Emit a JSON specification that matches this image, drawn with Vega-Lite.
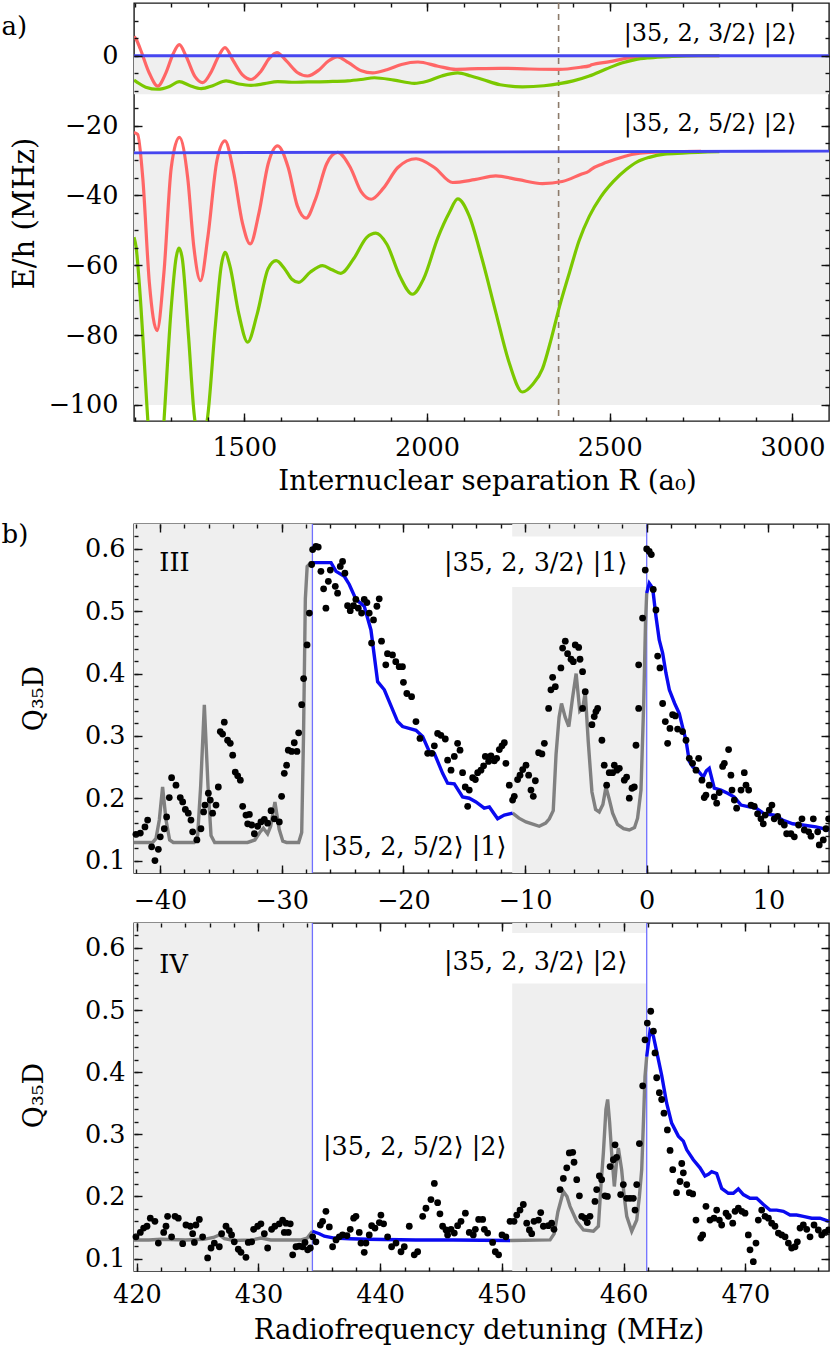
{
"$schema": "https://vega.github.io/schema/vega-lite/v6.json",
"padding": {"left": 0, "top": 1, "right": 0, "bottom": 0},
"spacing": 0,
"config": {
  "view": {"stroke": "#1a1a1a", "strokeWidth": 1.4},
  "font": "DejaVu Serif",
  "axis": {"domain": false, "grid": false, "ticks": true, "labelFont": "DejaVu Serif", "titleFont": "DejaVu Serif", "labelColor": "#000", "titleColor": "#000", "tickColor": "#111111", "tickOpacity": 1, "tickWidth": 1.4, "titleFontWeight": "normal", "labelFlush": false, "labelOverlap": false, "labelFontSize": 25.5}
},
"datasets": {
  "a_rect": [{"x":1198,"x2":3100,"y":-11,"y2":0},{"x":1198,"x2":3100,"y":-100,"y2":-27.4}],
  "a_rule": [{"x":2360}],
  "a_blue": [{"R":1198,"E":0,"s":"b1"},{"R":3100,"E":0,"s":"b1"},{"R":1198,"E":-27.8,"s":"b2"},{"R":3100,"E":-27.3,"s":"b2"}],
  "a_text": [{"x":2538,"y":6.1,"t":"|35, 2, 3/2⟩ |2⟩"},{"x":2538,"y":-19.6,"t":"|35, 2, 5/2⟩ |2⟩"}],
  "a_curves": [
{"R":1198,"E":5.5,"s":"r1"},{"R":1204,"E":4.7,"s":"r1"},{"R":1215,"E":2,"s":"r1"},{"R":1240,"E":-5,"s":"r1"},{"R":1263,"E":-8.7,"s":"r1"},{"R":1285,"E":-5,"s":"r1"},{"R":1305,"E":0.5,"s":"r1"},{"R":1322,"E":3.2,"s":"r1"},{"R":1340,"E":0,"s":"r1"},{"R":1365,"E":-6,"s":"r1"},{"R":1386,"E":-7.7,"s":"r1"},{"R":1410,"E":-4.5,"s":"r1"},{"R":1430,"E":0,"s":"r1"},{"R":1447,"E":2.3,"s":"r1"},{"R":1470,"E":-1.5,"s":"r1"},{"R":1495,"E":-5.5,"s":"r1"},{"R":1518,"E":-6.8,"s":"r1"},{"R":1545,"E":-4.5,"s":"r1"},{"R":1568,"E":-0.8,"s":"r1"},{"R":1589,"E":0.9,"s":"r1"},{"R":1615,"E":-1.5,"s":"r1"},{"R":1645,"E":-4.8,"s":"r1"},{"R":1673,"E":-5.8,"s":"r1"},{"R":1705,"E":-4,"s":"r1"},{"R":1730,"E":-1.5,"s":"r1"},{"R":1755,"E":-0.3,"s":"r1"},{"R":1785,"E":-2,"s":"r1"},{"R":1820,"E":-4.3,"s":"r1"},{"R":1851,"E":-4.9,"s":"r1"},{"R":1890,"E":-4,"s":"r1"},{"R":1930,"E":-2.5,"s":"r1"},{"R":1975,"E":-1.8,"s":"r1"},{"R":2030,"E":-3,"s":"r1"},{"R":2079,"E":-3.9,"s":"r1"},{"R":2140,"E":-3.7,"s":"r1"},{"R":2197,"E":-3.6,"s":"r1"},{"R":2280,"E":-3.8,"s":"r1"},{"R":2362,"E":-3.9,"s":"r1"},{"R":2420,"E":-3.3,"s":"r1"},{"R":2444,"E":-2.9,"s":"r1"},{"R":2450,"E":-2.6,"s":"r1"},{"R":2500,"E":-1.7,"s":"r1"},{"R":2553,"E":-0.6,"s":"r1"},{"R":2620,"E":-0.15,"s":"r1"},{"R":2700,"E":0,"s":"r1"},{"R":2800,"E":0,"s":"r1"},
{"R":1198,"E":-22,"s":"r2"},{"R":1208,"E":-22.5,"s":"r2"},{"R":1222,"E":-35,"s":"r2"},{"R":1240,"E":-65,"s":"r2"},{"R":1261,"E":-78.7,"s":"r2"},{"R":1280,"E":-62,"s":"r2"},{"R":1300,"E":-32,"s":"r2"},{"R":1322,"E":-23.4,"s":"r2"},{"R":1345,"E":-35,"s":"r2"},{"R":1362,"E":-55,"s":"r2"},{"R":1380,"E":-64.4,"s":"r2"},{"R":1400,"E":-52,"s":"r2"},{"R":1425,"E":-30,"s":"r2"},{"R":1447,"E":-24.4,"s":"r2"},{"R":1470,"E":-33,"s":"r2"},{"R":1495,"E":-48,"s":"r2"},{"R":1516,"E":-53.9,"s":"r2"},{"R":1540,"E":-45,"s":"r2"},{"R":1565,"E":-31,"s":"r2"},{"R":1591,"E":-25.8,"s":"r2"},{"R":1620,"E":-32,"s":"r2"},{"R":1645,"E":-43,"s":"r2"},{"R":1669,"E":-46.5,"s":"r2"},{"R":1695,"E":-41,"s":"r2"},{"R":1725,"E":-31,"s":"r2"},{"R":1755,"E":-27.7,"s":"r2"},{"R":1790,"E":-32,"s":"r2"},{"R":1820,"E":-39,"s":"r2"},{"R":1847,"E":-41.1,"s":"r2"},{"R":1880,"E":-38,"s":"r2"},{"R":1920,"E":-32,"s":"r2"},{"R":1970,"E":-29.5,"s":"r2"},{"R":2020,"E":-32,"s":"r2"},{"R":2070,"E":-36.3,"s":"r2"},{"R":2130,"E":-35.5,"s":"r2"},{"R":2188,"E":-34.4,"s":"r2"},{"R":2250,"E":-35.5,"s":"r2"},{"R":2316,"E":-36.6,"s":"r2"},{"R":2370,"E":-36,"s":"r2"},{"R":2420,"E":-34,"s":"r2"},{"R":2444,"E":-33,"s":"r2"},{"R":2450,"E":-32.5,"s":"r2"},{"R":2480,"E":-31,"s":"r2"},{"R":2517,"E":-29.6,"s":"r2"},{"R":2560,"E":-28.3,"s":"r2"},{"R":2608,"E":-27.7,"s":"r2"},{"R":2700,"E":-27.45,"s":"r2"},{"R":2750,"E":-27.4,"s":"r2"},
{"R":1198,"E":-7,"s":"g1"},{"R":1204,"E":-7.4,"s":"g1"},{"R":1230,"E":-9,"s":"g1"},{"R":1263,"E":-9.6,"s":"g1"},{"R":1295,"E":-8.8,"s":"g1"},{"R":1322,"E":-7.4,"s":"g1"},{"R":1350,"E":-8.5,"s":"g1"},{"R":1382,"E":-9.4,"s":"g1"},{"R":1415,"E":-8.5,"s":"g1"},{"R":1450,"E":-7.2,"s":"g1"},{"R":1485,"E":-8.1,"s":"g1"},{"R":1518,"E":-8.5,"s":"g1"},{"R":1555,"E":-8,"s":"g1"},{"R":1591,"E":-7.4,"s":"g1"},{"R":1630,"E":-7.6,"s":"g1"},{"R":1673,"E":-7.5,"s":"g1"},{"R":1730,"E":-7.4,"s":"g1"},{"R":1783,"E":-7.2,"s":"g1"},{"R":1820,"E":-6.8,"s":"g1"},{"R":1856,"E":-6.3,"s":"g1"},{"R":1910,"E":-7,"s":"g1"},{"R":1965,"E":-7.9,"s":"g1"},{"R":2000,"E":-7.3,"s":"g1"},{"R":2040,"E":-5.8,"s":"g1"},{"R":2084,"E":-4.9,"s":"g1"},{"R":2120,"E":-5.8,"s":"g1"},{"R":2152,"E":-6.8,"s":"g1"},{"R":2200,"E":-8.3,"s":"g1"},{"R":2261,"E":-8.9,"s":"g1"},{"R":2320,"E":-8.6,"s":"g1"},{"R":2362,"E":-8,"s":"g1"},{"R":2400,"E":-7.2,"s":"g1"},{"R":2444,"E":-5.8,"s":"g1"},{"R":2490,"E":-3.8,"s":"g1"},{"R":2535,"E":-2,"s":"g1"},{"R":2570,"E":-1.1,"s":"g1"},{"R":2608,"E":-0.6,"s":"g1"},{"R":2670,"E":-0.2,"s":"g1"},{"R":2744,"E":0,"s":"g1"},{"R":2800,"E":0,"s":"g1"},
{"R":1198,"E":-52,"s":"g2"},{"R":1204,"E":-55,"s":"g2"},{"R":1213,"E":-66,"s":"g2"},{"R":1235,"E":-103,"s":"g2"},{"R":1258,"E":-140,"s":"g2"},{"R":1281,"E":-103,"s":"g2"},{"R":1300,"E":-72,"s":"g2"},{"R":1313,"E":-58,"s":"g2"},{"R":1321,"E":-55.1,"s":"g2"},{"R":1330,"E":-58,"s":"g2"},{"R":1347,"E":-80,"s":"g2"},{"R":1363,"E":-103,"s":"g2"},{"R":1382,"E":-112,"s":"g2"},{"R":1400,"E":-103,"s":"g2"},{"R":1420,"E":-78,"s":"g2"},{"R":1437,"E":-60,"s":"g2"},{"R":1447,"E":-56.3,"s":"g2"},{"R":1460,"E":-60,"s":"g2"},{"R":1485,"E":-74,"s":"g2"},{"R":1509,"E":-82,"s":"g2"},{"R":1535,"E":-74,"s":"g2"},{"R":1565,"E":-61,"s":"g2"},{"R":1587,"E":-58.7,"s":"g2"},{"R":1610,"E":-61,"s":"g2"},{"R":1630,"E":-64,"s":"g2"},{"R":1649,"E":-64.9,"s":"g2"},{"R":1680,"E":-62,"s":"g2"},{"R":1714,"E":-60.1,"s":"g2"},{"R":1740,"E":-61.3,"s":"g2"},{"R":1764,"E":-62.3,"s":"g2"},{"R":1800,"E":-58,"s":"g2"},{"R":1835,"E":-52,"s":"g2"},{"R":1860,"E":-50.8,"s":"g2"},{"R":1890,"E":-54,"s":"g2"},{"R":1925,"E":-63,"s":"g2"},{"R":1960,"E":-68.3,"s":"g2"},{"R":1990,"E":-64,"s":"g2"},{"R":2030,"E":-52,"s":"g2"},{"R":2061,"E":-44.9,"s":"g2"},{"R":2084,"E":-41,"s":"g2"},{"R":2115,"E":-45.8,"s":"g2"},{"R":2150,"E":-58,"s":"g2"},{"R":2188,"E":-73.4,"s":"g2"},{"R":2225,"E":-88,"s":"g2"},{"R":2261,"E":-96.3,"s":"g2"},{"R":2290,"E":-94,"s":"g2"},{"R":2316,"E":-89.6,"s":"g2"},{"R":2340,"E":-81,"s":"g2"},{"R":2362,"E":-72,"s":"g2"},{"R":2390,"E":-62,"s":"g2"},{"R":2416,"E":-53,"s":"g2"},{"R":2444,"E":-46,"s":"g2"},{"R":2475,"E":-40.5,"s":"g2"},{"R":2510,"E":-36,"s":"g2"},{"R":2545,"E":-32.6,"s":"g2"},{"R":2575,"E":-30.4,"s":"g2"},{"R":2608,"E":-29.1,"s":"g2"},{"R":2650,"E":-28.2,"s":"g2"},{"R":2699,"E":-27.9,"s":"g2"},{"R":2800,"E":-27.5,"s":"g2"}
  ],
  "b_rect": [{"x":-42.13,"x2":-27.47,"y":0.08,"y2":0.64},{"x":-11.05,"x2":0,"y":0.08,"y2":0.539},{"x":-11.05,"x2":0,"y":0.62,"y2":0.64}],
  "b_vr": [{"x":-27.47},{"x":0}],
  "b_text": [{"x":-40.05,"y":0.5775,"t":"III"},{"x":-16.66,"y":0.5775,"t":"|35, 2, 3/2⟩ |1⟩"},{"x":-26.6,"y":0.122,"t":"|35, 2, 5/2⟩ |1⟩"}],
  "b_gray": [
{"x":-42.13,"y":0.129,"g":"1"},{"x":-40.6,"y":0.129,"g":"1"},{"x":-40.33,"y":0.135,"g":"1"},{"x":-40.05,"y":0.165,"g":"1"},{"x":-39.78,"y":0.218,"g":"1"},{"x":-39.5,"y":0.165,"g":"1"},{"x":-39.2,"y":0.133,"g":"1"},{"x":-38.9,"y":0.129,"g":"1"},{"x":-37.2,"y":0.129,"g":"1"},{"x":-36.9,"y":0.14,"g":"1"},{"x":-36.65,"y":0.22,"g":"1"},{"x":-36.35,"y":0.35,"g":"1"},{"x":-36.05,"y":0.22,"g":"1"},{"x":-35.8,"y":0.14,"g":"1"},{"x":-35.5,"y":0.129,"g":"1"},{"x":-32.8,"y":0.129,"g":"1"},{"x":-32.2,"y":0.133,"g":"1"},{"x":-31.8,"y":0.145,"g":"1"},{"x":-31.5,"y":0.152,"g":"1"},{"x":-31.15,"y":0.143,"g":"1"},{"x":-30.9,"y":0.155,"g":"1"},{"x":-30.55,"y":0.194,"g":"1"},{"x":-30.2,"y":0.15,"g":"1"},{"x":-29.9,"y":0.131,"g":"1"},{"x":-29.6,"y":0.129,"g":"1"},{"x":-28.6,"y":0.129,"g":"1"},{"x":-28.35,"y":0.145,"g":"1"},{"x":-28.2,"y":0.3,"g":"1"},{"x":-28.05,"y":0.52,"g":"1"},{"x":-27.9,"y":0.572,"g":"1"},{"x":-27.6,"y":0.578,"g":"1"},{"x":-27.47,"y":0.578,"g":"1"},
{"x":-11.02,"y":0.176,"g":"2"},{"x":-10.5,"y":0.168,"g":"2"},{"x":-9.92,"y":0.162,"g":"2"},{"x":-9.3,"y":0.158,"g":"2"},{"x":-8.83,"y":0.155,"g":"2"},{"x":-8.3,"y":0.16,"g":"2"},{"x":-8.0,"y":0.167,"g":"2"},{"x":-7.68,"y":0.18,"g":"2"},{"x":-7.45,"y":0.27,"g":"2"},{"x":-7.2,"y":0.33,"g":"2"},{"x":-7.0,"y":0.352,"g":"2"},{"x":-6.7,"y":0.33,"g":"2"},{"x":-6.4,"y":0.315,"g":"2"},{"x":-6.1,"y":0.36,"g":"2"},{"x":-5.8,"y":0.4,"g":"2"},{"x":-5.5,"y":0.34,"g":"2"},{"x":-5.25,"y":0.345,"g":"2"},{"x":-5.05,"y":0.37,"g":"2"},{"x":-4.8,"y":0.29,"g":"2"},{"x":-4.5,"y":0.21,"g":"2"},{"x":-4.2,"y":0.182,"g":"2"},{"x":-3.9,"y":0.178,"g":"2"},{"x":-3.6,"y":0.19,"g":"2"},{"x":-3.35,"y":0.218,"g":"2"},{"x":-3.1,"y":0.2,"g":"2"},{"x":-2.8,"y":0.176,"g":"2"},{"x":-2.4,"y":0.158,"g":"2"},{"x":-1.9,"y":0.151,"g":"2"},{"x":-1.43,"y":0.149,"g":"2"},{"x":-1.0,"y":0.153,"g":"2"},{"x":-0.75,"y":0.168,"g":"2"},{"x":-0.47,"y":0.213,"g":"2"},{"x":-0.25,"y":0.35,"g":"2"},{"x":-0.1,"y":0.48,"g":"2"},{"x":0,"y":0.529,"g":"2"}
  ],
  "b_blue": [
{"x":-27.47,"y":0.578,"g":"1"},{"x":-25.94,"y":0.578,"g":"1"},{"x":-25.53,"y":0.564,"g":"1"},{"x":-24.85,"y":0.556,"g":"1"},{"x":-24.44,"y":0.543,"g":"1"},{"x":-23.89,"y":0.519,"g":"1"},{"x":-23.21,"y":0.508,"g":"1"},{"x":-22.66,"y":0.47,"g":"1"},{"x":-22.11,"y":0.387,"g":"1"},{"x":-21.56,"y":0.374,"g":"1"},{"x":-20.47,"y":0.323,"g":"1"},{"x":-20.06,"y":0.315,"g":"1"},{"x":-18.96,"y":0.309,"g":"1"},{"x":-18.41,"y":0.299,"g":"1"},{"x":-17.87,"y":0.275,"g":"1"},{"x":-17.45,"y":0.272,"g":"1"},{"x":-16.77,"y":0.24,"g":"1"},{"x":-16.36,"y":0.224,"g":"1"},{"x":-15.81,"y":0.223,"g":"1"},{"x":-15.13,"y":0.202,"g":"1"},{"x":-14.58,"y":0.2,"g":"1"},{"x":-14.03,"y":0.194,"g":"1"},{"x":-13.35,"y":0.184,"g":"1"},{"x":-12.93,"y":0.186,"g":"1"},{"x":-12.25,"y":0.167,"g":"1"},{"x":-11.7,"y":0.173,"g":"1"},{"x":-11.02,"y":0.176,"g":"1"},
{"x":0,"y":0.529,"g":"2"},{"x":0.21,"y":0.545,"g":"2"},{"x":0.49,"y":0.537,"g":"2"},{"x":0.76,"y":0.492,"g":"2"},{"x":1.03,"y":0.454,"g":"2"},{"x":1.31,"y":0.433,"g":"2"},{"x":1.58,"y":0.401,"g":"2"},{"x":1.86,"y":0.374,"g":"2"},{"x":2.3,"y":0.352,"g":"2"},{"x":2.68,"y":0.336,"g":"2"},{"x":3.0,"y":0.31,"g":"2"},{"x":3.23,"y":0.293,"g":"2"},{"x":3.5,"y":0.259,"g":"2"},{"x":3.8,"y":0.25,"g":"2"},{"x":4.18,"y":0.245,"g":"2"},{"x":4.65,"y":0.234,"g":"2"},{"x":4.9,"y":0.244,"g":"2"},{"x":5.14,"y":0.248,"g":"2"},{"x":5.55,"y":0.216,"g":"2"},{"x":6.1,"y":0.213,"g":"2"},{"x":6.65,"y":0.208,"g":"2"},{"x":7.2,"y":0.202,"g":"2"},{"x":7.75,"y":0.189,"g":"2"},{"x":8.43,"y":0.186,"g":"2"},{"x":8.98,"y":0.184,"g":"2"},{"x":9.66,"y":0.175,"g":"2"},{"x":10.48,"y":0.173,"g":"2"},{"x":11.17,"y":0.165,"g":"2"},{"x":11.99,"y":0.159,"g":"2"},{"x":12.81,"y":0.157,"g":"2"},{"x":13.91,"y":0.154,"g":"2"},{"x":14.98,"y":0.149,"g":"2"}
  ],
  "b_dots": [
{"x":-41.97,"y":0.142},{"x":-41.61,"y":0.144},{"x":-41.23,"y":0.154},{"x":-41.01,"y":0.165},{"x":-40.68,"y":0.122},{"x":-40.41,"y":0.1},{"x":-40.13,"y":0.118},{"x":-39.97,"y":0.138},{"x":-39.64,"y":0.151},{"x":-39.45,"y":0.17},{"x":-39.23,"y":0.201},{"x":-39.04,"y":0.233},{"x":-38.68,"y":0.221},{"x":-38.33,"y":0.201},{"x":-38.13,"y":0.194},{"x":-37.91,"y":0.182},{"x":-37.67,"y":0.176},{"x":-37.45,"y":0.165},{"x":-37.31,"y":0.146},{"x":-36.96,"y":0.133},{"x":-36.63,"y":0.151},{"x":-36.41,"y":0.178},{"x":-36.3,"y":0.189},{"x":-36.02,"y":0.208},{"x":-35.86,"y":0.197},{"x":-35.67,"y":0.176},{"x":-35.39,"y":0.189},{"x":-35.2,"y":0.218},{"x":-35.04,"y":0.307},{"x":-34.71,"y":0.322},{"x":-34.85,"y":0.303},{"x":-34.44,"y":0.293},{"x":-34.22,"y":0.288},{"x":-34.02,"y":0.269},{"x":-33.81,"y":0.242},{"x":-33.61,"y":0.236},{"x":-33.39,"y":0.229},{"x":-33.2,"y":0.187},{"x":-32.93,"y":0.173},{"x":-32.65,"y":0.174},{"x":-32.79,"y":0.159},{"x":-32.46,"y":0.157},{"x":-32.24,"y":0.143},{"x":-31.97,"y":0.155},{"x":-31.7,"y":0.162},{"x":-31.42,"y":0.166},{"x":-31.15,"y":0.16},{"x":-30.87,"y":0.18},{"x":-30.6,"y":0.167},{"x":-30.19,"y":0.162},{"x":-30.0,"y":0.203},{"x":-29.78,"y":0.24},{"x":-29.59,"y":0.253},{"x":-29.45,"y":0.277},{"x":-29.18,"y":0.275},{"x":-28.96,"y":0.289},{"x":-28.74,"y":0.275},{"x":-28.6,"y":0.305},{"x":-28.35,"y":0.35},
{"x":-28.19,"y":0.392},{"x":-27.91,"y":0.446},{"x":-27.72,"y":0.497},{"x":-27.53,"y":0.575},{"x":-27.45,"y":0.599},{"x":-27.18,"y":0.604},{"x":-26.99,"y":0.603},{"x":-26.77,"y":0.564},{"x":-26.55,"y":0.536},{"x":-26.36,"y":0.505},{"x":-26.16,"y":0.548},{"x":-26.0,"y":0.566},{"x":-25.59,"y":0.54},{"x":-25.4,"y":0.529},{"x":-25.18,"y":0.572},{"x":-24.99,"y":0.58},{"x":-24.8,"y":0.561},{"x":-24.58,"y":0.509},{"x":-24.36,"y":0.501},{"x":-24.09,"y":0.509},{"x":-23.9,"y":0.519},{"x":-23.7,"y":0.505},{"x":-23.43,"y":0.497},{"x":-23.21,"y":0.519},{"x":-22.99,"y":0.514},{"x":-22.8,"y":0.497},{"x":-22.45,"y":0.486},{"x":-22.17,"y":0.508},{"x":-21.98,"y":0.52},{"x":-22.61,"y":0.449},{"x":-21.79,"y":0.452},{"x":-21.44,"y":0.414},{"x":-21.3,"y":0.432},{"x":-20.89,"y":0.43},{"x":-20.62,"y":0.419},{"x":-20.34,"y":0.411},{"x":-20.07,"y":0.411},{"x":-19.99,"y":0.386},{"x":-19.71,"y":0.368},{"x":-19.32,"y":0.363},{"x":-18.96,"y":0.323},
{"x":-18.63,"y":0.296},{"x":-18.0,"y":0.272},{"x":-17.65,"y":0.272},{"x":-17.45,"y":0.284},{"x":-17.18,"y":0.304},{"x":-16.91,"y":0.301},{"x":-16.55,"y":0.295},{"x":-16.36,"y":0.261},{"x":-16.08,"y":0.245},{"x":-15.81,"y":0.267},{"x":-15.54,"y":0.288},{"x":-15.34,"y":0.277},{"x":-15.13,"y":0.241},{"x":-14.91,"y":0.218},{"x":-14.71,"y":0.187},{"x":-14.58,"y":0.213},{"x":-14.3,"y":0.233},{"x":-14.08,"y":0.23},{"x":-13.89,"y":0.241},{"x":-13.62,"y":0.245},{"x":-13.4,"y":0.252},{"x":-13.26,"y":0.267},{"x":-12.99,"y":0.259},{"x":-12.8,"y":0.268},{"x":-12.52,"y":0.26},{"x":-12.33,"y":0.264},{"x":-12.11,"y":0.278},{"x":-11.89,"y":0.284},{"x":-11.7,"y":0.289},{"x":-11.57,"y":0.256},{"x":-11.29,"y":0.221},{"x":-11.02,"y":0.197},{"x":-10.88,"y":0.203},{"x":-10.61,"y":0.23},{"x":-10.41,"y":0.237},{"x":-10.19,"y":0.246},{"x":-9.92,"y":0.253},{"x":-9.7,"y":0.237},{"x":-9.51,"y":0.213},{"x":-9.32,"y":0.203},{"x":-9.15,"y":0.228},{"x":-8.88,"y":0.273},{"x":-8.61,"y":0.271},{"x":-8.41,"y":0.288},{"x":-8.06,"y":0.344},{"x":-7.87,"y":0.374},
{"x":-7.51,"y":0.379},{"x":-7.73,"y":0.394},{"x":-7.05,"y":0.409},{"x":-6.91,"y":0.441},{"x":-6.69,"y":0.452},{"x":-6.5,"y":0.432},{"x":-6.22,"y":0.423},{"x":-6.03,"y":0.419},{"x":-5.87,"y":0.446},{"x":-5.59,"y":0.442},{"x":-5.48,"y":0.423},{"x":-5.27,"y":0.403},{"x":-5.05,"y":0.371},{"x":-5.27,"y":0.344},{"x":-4.5,"y":0.318},{"x":-4.31,"y":0.331},{"x":-4.17,"y":0.339},{"x":-4.03,"y":0.344},{"x":-3.68,"y":0.293},{"x":-3.49,"y":0.253},{"x":-3.29,"y":0.221},{"x":-3.08,"y":0.241},{"x":-2.8,"y":0.241},{"x":-2.66,"y":0.253},{"x":-2.45,"y":0.245},{"x":-2.25,"y":0.248},{"x":-1.84,"y":0.229},{"x":-1.65,"y":0.234},{"x":-1.43,"y":0.2},{"x":-1.21,"y":0.216},{"x":-1.02,"y":0.218},{"x":-0.88,"y":0.285},{"x":-0.66,"y":0.344},
{"x":-0.66,"y":0.414},{"x":-0.34,"y":0.489},{"x":-0.12,"y":0.566},{"x":0.0,"y":0.6},{"x":0.21,"y":0.596},{"x":0.38,"y":0.591},{"x":0.54,"y":0.535},{"x":0.76,"y":0.502},{"x":0.9,"y":0.428},{"x":1.09,"y":0.409},
{"x":1.31,"y":0.352},{"x":1.53,"y":0.323},{"x":1.72,"y":0.288},{"x":1.91,"y":0.312},{"x":2.13,"y":0.334},{"x":2.35,"y":0.332},{"x":2.54,"y":0.311},{"x":2.95,"y":0.307},{"x":3.23,"y":0.293},{"x":3.5,"y":0.264},{"x":3.77,"y":0.256},{"x":4.05,"y":0.245},{"x":4.27,"y":0.264},{"x":4.54,"y":0.229},{"x":4.73,"y":0.201},{"x":4.87,"y":0.205},{"x":5.14,"y":0.221},{"x":5.55,"y":0.202},{"x":5.75,"y":0.192},{"x":5.96,"y":0.209},{"x":6.24,"y":0.251},{"x":6.38,"y":0.256},{"x":6.73,"y":0.278},{"x":6.92,"y":0.237},{"x":7.01,"y":0.213},{"x":7.2,"y":0.197},{"x":7.39,"y":0.184},{"x":7.75,"y":0.213},{"x":8.02,"y":0.241},{"x":8.16,"y":0.221},{"x":8.38,"y":0.213},{"x":8.57,"y":0.189},{"x":8.84,"y":0.187},{"x":9.11,"y":0.175},{"x":9.39,"y":0.167},{"x":9.58,"y":0.159},{"x":9.74,"y":0.173},{"x":10.07,"y":0.181},{"x":10.29,"y":0.189},{"x":10.48,"y":0.167},{"x":10.76,"y":0.171},{"x":11.03,"y":0.162},{"x":11.31,"y":0.157},{"x":11.5,"y":0.143},{"x":11.85,"y":0.143},{"x":12.13,"y":0.138},{"x":12.48,"y":0.157},{"x":12.76,"y":0.167},{"x":12.95,"y":0.149},{"x":13.31,"y":0.146},{"x":13.5,"y":0.139},{"x":13.69,"y":0.167},{"x":14.05,"y":0.146},{"x":14.18,"y":0.125},{"x":14.51,"y":0.133},{"x":14.73,"y":0.151},{"x":14.95,"y":0.167}
  ],
  "c_rect": [{"x":419.77,"x2":434.43,"y":0.08,"y2":0.64},{"x":450.85,"x2":461.9,"y":0.08,"y2":0.5425},{"x":450.85,"x2":461.9,"y":0.624,"y2":0.64}],
  "c_vr": [{"x":434.43},{"x":461.9}],
  "c_text": [{"x":421.85,"y":0.573,"t":"IV"},{"x":445.24,"y":0.578,"t":"|35, 2, 3/2⟩ |2⟩"},{"x":435.3,"y":0.28,"t":"|35, 2, 5/2⟩ |2⟩"}],
  "c_gray": [
{"x":419.77,"y":0.13,"g":"1"},{"x":421,"y":0.13,"g":"1"},{"x":422,"y":0.131,"g":"1"},{"x":424,"y":0.13,"g":"1"},{"x":425.5,"y":0.131,"g":"1"},{"x":426.3,"y":0.134,"g":"1"},{"x":426.78,"y":0.138,"g":"1"},{"x":427.2,"y":0.132,"g":"1"},{"x":428,"y":0.129,"g":"1"},{"x":429.5,"y":0.13,"g":"1"},{"x":430.2,"y":0.133,"g":"1"},{"x":431,"y":0.13,"g":"1"},{"x":433.5,"y":0.13,"g":"1"},{"x":434.0,"y":0.133,"g":"1"},{"x":434.43,"y":0.144,"g":"1"},
{"x":450.67,"y":0.129,"g":"2"},{"x":453.96,"y":0.13,"g":"2"},{"x":454.3,"y":0.14,"g":"2"},{"x":454.6,"y":0.175,"g":"2"},{"x":455.05,"y":0.208,"g":"2"},{"x":455.35,"y":0.2,"g":"2"},{"x":455.6,"y":0.184,"g":"2"},{"x":456.15,"y":0.16,"g":"2"},{"x":456.7,"y":0.146,"g":"2"},{"x":457.52,"y":0.144,"g":"2"},{"x":457.93,"y":0.152,"g":"2"},{"x":458.15,"y":0.22,"g":"2"},{"x":458.34,"y":0.27,"g":"2"},{"x":458.55,"y":0.34,"g":"2"},{"x":458.69,"y":0.356,"g":"2"},{"x":458.85,"y":0.32,"g":"2"},{"x":459.02,"y":0.27,"g":"2"},{"x":459.24,"y":0.216,"g":"2"},{"x":459.4,"y":0.25,"g":"2"},{"x":459.57,"y":0.278,"g":"2"},{"x":459.84,"y":0.243,"g":"2"},{"x":460.05,"y":0.2,"g":"2"},{"x":460.26,"y":0.168,"g":"2"},{"x":460.67,"y":0.144,"g":"2"},{"x":461.08,"y":0.162,"g":"2"},{"x":461.3,"y":0.2,"g":"2"},{"x":461.49,"y":0.243,"g":"2"},{"x":461.65,"y":0.33,"g":"2"},{"x":461.76,"y":0.393,"g":"2"},{"x":461.9,"y":0.425,"g":"2"}
  ],
  "c_blue": [
{"x":434.43,"y":0.144,"g":"1"},{"x":435.0,"y":0.14,"g":"1"},{"x":435.41,"y":0.136,"g":"1"},{"x":436.23,"y":0.133,"g":"1"},{"x":437.5,"y":0.132,"g":"1"},{"x":438.97,"y":0.131,"g":"1"},{"x":442.94,"y":0.13,"g":"1"},{"x":446,"y":0.13,"g":"1"},{"x":450.67,"y":0.129,"g":"1"},
{"x":461.9,"y":0.425,"g":"2"},{"x":462.17,"y":0.466,"g":"2"},{"x":462.3,"y":0.462,"g":"2"},{"x":462.45,"y":0.458,"g":"2"},{"x":462.86,"y":0.42,"g":"2"},{"x":463.13,"y":0.395,"g":"2"},{"x":463.54,"y":0.35,"g":"2"},{"x":463.95,"y":0.318,"g":"2"},{"x":464.5,"y":0.297,"g":"2"},{"x":464.91,"y":0.289,"g":"2"},{"x":465.19,"y":0.275,"g":"2"},{"x":465.73,"y":0.259,"g":"2"},{"x":466.28,"y":0.246,"g":"2"},{"x":466.69,"y":0.233,"g":"2"},{"x":467.0,"y":0.236,"g":"2"},{"x":467.24,"y":0.24,"g":"2"},{"x":467.65,"y":0.237,"g":"2"},{"x":468.06,"y":0.213,"g":"2"},{"x":468.61,"y":0.205,"g":"2"},{"x":469.02,"y":0.205,"g":"2"},{"x":469.43,"y":0.212,"g":"2"},{"x":469.84,"y":0.203,"g":"2"},{"x":470.39,"y":0.197,"g":"2"},{"x":470.94,"y":0.197,"g":"2"},{"x":471.49,"y":0.187,"g":"2"},{"x":472.03,"y":0.178,"g":"2"},{"x":472.58,"y":0.178,"g":"2"},{"x":473.13,"y":0.176,"g":"2"},{"x":473.68,"y":0.17,"g":"2"},{"x":474.22,"y":0.17,"g":"2"},{"x":474.77,"y":0.168,"g":"2"},{"x":475.46,"y":0.165,"g":"2"},{"x":476.14,"y":0.165,"g":"2"},{"x":476.88,"y":0.16,"g":"2"}
  ],
  "c_dots": [
{"x":419.93,"y":0.135},{"x":420.29,"y":0.142},{"x":420.56,"y":0.149},{"x":420.84,"y":0.152},{"x":421.11,"y":0.165},{"x":421.49,"y":0.16},{"x":421.77,"y":0.125},{"x":422.21,"y":0.142},{"x":422.4,"y":0.152},{"x":422.53,"y":0.168},{"x":422.86,"y":0.135},{"x":423.14,"y":0.168},{"x":423.41,"y":0.165},{"x":423.77,"y":0.124},{"x":424.04,"y":0.154},{"x":424.4,"y":0.152},{"x":424.59,"y":0.14},{"x":424.86,"y":0.154},{"x":425.14,"y":0.163},{"x":424.73,"y":0.126},{"x":425.41,"y":0.135},{"x":425.82,"y":0.101},{"x":426.1,"y":0.117},{"x":426.37,"y":0.125},{"x":426.78,"y":0.119},{"x":426.97,"y":0.14},{"x":427.33,"y":0.152},{"x":427.6,"y":0.145},{"x":427.79,"y":0.138},{"x":428.01,"y":0.127},{"x":428.34,"y":0.115},{"x":428.56,"y":0.11},{"x":428.97,"y":0.102},{"x":429.16,"y":0.126},{"x":429.44,"y":0.127},{"x":429.6,"y":0.147},{"x":429.93,"y":0.152},{"x":430.2,"y":0.156},{"x":430.48,"y":0.14},{"x":430.75,"y":0.117},{"x":431.08,"y":0.147},{"x":431.35,"y":0.152},{"x":431.71,"y":0.156},{"x":431.98,"y":0.162},{"x":432.26,"y":0.157},{"x":432.12,"y":0.142},{"x":432.45,"y":0.142},{"x":432.61,"y":0.156},{"x":432.81,"y":0.106},{"x":433.08,"y":0.119},{"x":433.35,"y":0.12},{"x":433.63,"y":0.119},{"x":433.82,"y":0.126},{"x":434.04,"y":0.114},{"x":434.26,"y":0.117},{"x":434.45,"y":0.135},{"x":434.72,"y":0.127},{"x":435.08,"y":0.154},{"x":435.27,"y":0.16},{"x":435.54,"y":0.176},{"x":435.82,"y":0.151},{"x":436.09,"y":0.119},{"x":436.37,"y":0.13},{"x":436.64,"y":0.135},{"x":436.91,"y":0.138},{"x":437.27,"y":0.137},{"x":437.54,"y":0.147},{"x":437.82,"y":0.165},{"x":438.01,"y":0.168},{"x":438.28,"y":0.142},{"x":438.42,"y":0.125},{"x":438.69,"y":0.11},{"x":438.83,"y":0.125},{"x":439.1,"y":0.138},{"x":439.3,"y":0.153},{"x":439.57,"y":0.149},{"x":439.93,"y":0.158},{"x":440.06,"y":0.17},{"x":440.28,"y":0.156},{"x":440.61,"y":0.135},{"x":440.94,"y":0.119},{"x":441.3,"y":0.125},{"x":441.71,"y":0.111},{"x":441.98,"y":0.119},{"x":442.39,"y":0.152},{"x":442.8,"y":0.106},
{"x":443.08,"y":0.111},{"x":443.49,"y":0.168},{"x":443.76,"y":0.181},{"x":444.17,"y":0.195},{"x":444.45,"y":0.221},{"x":444.72,"y":0.19},{"x":444.91,"y":0.172},{"x":445.13,"y":0.152},{"x":445.41,"y":0.146},{"x":445.54,"y":0.138},{"x":445.82,"y":0.147},{"x":446.09,"y":0.141},{"x":446.36,"y":0.153},{"x":446.64,"y":0.16},{"x":447.0,"y":0.173},{"x":447.32,"y":0.142},{"x":447.65,"y":0.138},{"x":447.82,"y":0.147},{"x":448.09,"y":0.163},{"x":448.42,"y":0.163},{"x":448.56,"y":0.147},{"x":448.83,"y":0.141},{"x":449.24,"y":0.126},{"x":449.46,"y":0.111},{"x":449.73,"y":0.106},{"x":450.01,"y":0.138},{"x":450.33,"y":0.135},{"x":450.67,"y":0.16},{"x":451.0,"y":0.16},{"x":451.22,"y":0.17},{"x":451.49,"y":0.178},{"x":451.76,"y":0.187},{"x":452.04,"y":0.157},{"x":452.26,"y":0.146},{"x":452.45,"y":0.14},{"x":452.64,"y":0.16},{"x":453.0,"y":0.162},{"x":453.19,"y":0.174},{"x":453.41,"y":0.152},{"x":453.82,"y":0.153},{"x":454.09,"y":0.157},{"x":454.28,"y":0.147},{"x":454.78,"y":0.211},{"x":455.05,"y":0.229},{"x":455.33,"y":0.246},{"x":455.54,"y":0.27},{"x":455.82,"y":0.271},{"x":455.93,"y":0.255},{"x":456.15,"y":0.227},{"x":456.37,"y":0.201},{"x":456.56,"y":0.168},{"x":456.83,"y":0.165},{"x":457.02,"y":0.158},{"x":457.24,"y":0.168},{"x":457.65,"y":0.192},{"x":457.79,"y":0.211},{"x":458.01,"y":0.233},{"x":458.2,"y":0.227},{"x":458.47,"y":0.201},{"x":458.67,"y":0.2},{"x":458.89,"y":0.248},{"x":459.16,"y":0.259},{"x":459.3,"y":0.283},{"x":459.43,"y":0.263},{"x":459.76,"y":0.203},{"x":459.98,"y":0.219},{"x":460.26,"y":0.197},{"x":460.53,"y":0.197},{"x":460.8,"y":0.197},{"x":460.94,"y":0.178},{"x":461.08,"y":0.219},{"x":461.3,"y":0.285},{"x":461.57,"y":0.378},
{"x":461.76,"y":0.452},{"x":461.95,"y":0.479},{"x":462.23,"y":0.498},{"x":462.45,"y":0.466},{"x":462.58,"y":0.431},{"x":462.72,"y":0.391},
{"x":462.94,"y":0.367},{"x":463.13,"y":0.356},{"x":463.32,"y":0.334},{"x":463.6,"y":0.307},{"x":463.82,"y":0.274},{"x":464.04,"y":0.243},{"x":464.35,"y":0.206},{"x":464.64,"y":0.224},{"x":464.78,"y":0.253},{"x":464.91,"y":0.238},{"x":465.19,"y":0.219},{"x":465.4,"y":0.206},{"x":465.68,"y":0.204},{"x":465.95,"y":0.162},{"x":466.34,"y":0.133},{"x":466.5,"y":0.138},{"x":466.77,"y":0.184},{"x":467.1,"y":0.162},{"x":467.43,"y":0.165},{"x":467.65,"y":0.178},{"x":467.87,"y":0.162},{"x":468.06,"y":0.154},{"x":468.42,"y":0.173},{"x":468.61,"y":0.168},{"x":468.97,"y":0.157},{"x":469.16,"y":0.176},{"x":469.43,"y":0.181},{"x":469.71,"y":0.176},{"x":469.98,"y":0.173},{"x":470.25,"y":0.138},{"x":470.39,"y":0.114},{"x":470.66,"y":0.095},{"x":470.88,"y":0.125},{"x":471.07,"y":0.162},{"x":471.35,"y":0.178},{"x":471.62,"y":0.168},{"x":471.9,"y":0.165},{"x":472.17,"y":0.157},{"x":472.44,"y":0.152},{"x":472.72,"y":0.141},{"x":472.99,"y":0.138},{"x":473.27,"y":0.135},{"x":473.54,"y":0.125},{"x":473.81,"y":0.117},{"x":474.09,"y":0.119},{"x":474.28,"y":0.127},{"x":474.5,"y":0.149},{"x":474.77,"y":0.154},{"x":475.05,"y":0.147},{"x":475.32,"y":0.135},{"x":475.65,"y":0.154},{"x":476.0,"y":0.146},{"x":476.28,"y":0.138},{"x":476.55,"y":0.142},{"x":476.85,"y":0.146}
  ]
},
"vconcat": [
{
  "width": 695, "height": 418,
  "resolve": {"axis": {"x": "independent", "y": "independent"}},
  "layer": [
    {"data": {"name": "a_rect"}, "mark": {"type": "rect", "color": "#efefef"},
     "encoding": {
       "x": {"field": "x", "type": "quantitative", "scale": {"domain": [1198, 3100], "nice": false, "zero": false},
             "axis": {"orient": "bottom", "zindex": 2, "offset": -8, "values": [1500, 2000, 2500, 3000], "format": "d", "ticks": true, "tickSize": 8, "labelPadding": 14, "title": "Internuclear separation R (a₀)", "titleFontSize": 27.5, "titleX": 353, "titleY": 76, "titleAlign": "center", "titleBaseline": "alphabetic"}},
       "x2": {"field": "x2"},
       "y": {"field": "y", "type": "quantitative", "scale": {"domain": [-104.6, 15.1], "nice": false, "zero": false},
             "axis": {"orient": "left", "zindex": 2, "offset": -8, "values": [0, -20, -40, -60, -80, -100], "format": "d", "ticks": true, "tickSize": 8, "labelPadding": 16, "title": "E/h (MHz)", "titleFontSize": 29, "titleX": -118, "titleY": 210, "titleAngle": 270, "titleAlign": "center", "titleBaseline": "middle"}},
       "y2": {"field": "y2"}}},
    {"data": {"name": "a_rule"}, "mark": {"type": "rule", "color": "#8c7a6a", "strokeWidth": 1.6, "strokeDash": [6, 5]},
     "encoding": {"x": {"field": "x", "type": "quantitative", "scale": {"domain": [1198, 3100], "nice": false, "zero": false}, "axis": null}}},
    {"data": {"name": "a_curves"}, "mark": {"type": "line", "strokeWidth": 3.2, "interpolate": "monotone", "clip": true},
     "encoding": {
       "x": {"field": "R", "type": "quantitative", "scale": {"domain": [1198, 3100], "nice": false, "zero": false},
             "axis": {"orient": "top", "zindex": 2, "offset": -8, "values": [1500, 2000, 2500, 3000], "labels": false, "ticks": true, "tickSize": 8, "title": "a)", "titleFontSize": 26, "titleX": -133, "titleY": 23, "titleAlign": "left", "titleBaseline": "alphabetic", "titleAngle": 0}},
       "y": {"field": "E", "type": "quantitative", "scale": {"domain": [-104.6, 15.1], "nice": false, "zero": false},
             "axis": {"orient": "right", "zindex": 2, "offset": -8, "values": [0, -20, -40, -60, -80, -100], "labels": false, "ticks": true, "tickSize": 8, "title": null}},
       "color": {"field": "s", "type": "nominal", "scale": {"domain": ["r2", "r1", "g2", "g1"], "range": ["#ff6666", "#ff6666", "#7bc800", "#7bc800"]}, "legend": null}}},
    {"data": {"name": "a_blue"}, "mark": {"type": "line", "strokeWidth": 2.8, "color": "#4646f0"},
     "encoding": {
       "x": {"field": "R", "type": "quantitative", "scale": {"domain": [1198, 3100], "nice": false, "zero": false},
             "axis": {"orient": "bottom", "zindex": 2, "offset": -4, "values": [1200, 1300, 1400, 1500, 1600, 1700, 1800, 1900, 2000, 2100, 2200, 2300, 2400, 2500, 2600, 2700, 2800, 2900, 3000], "labels": false, "ticks": true, "tickSize": 4, "title": ".", "titleColor": "transparent", "titleFontSize": 10, "titleX": 690, "titleY": 102, "titleBaseline": "bottom", "titleAngle": 0}},
       "y": {"field": "E", "type": "quantitative", "scale": {"domain": [-104.6, 15.1], "nice": false, "zero": false},
             "axis": {"orient": "left", "zindex": 2, "offset": -4, "values": [-100, -95, -90, -85, -80, -75, -70, -65, -60, -55, -50, -45, -40, -35, -30, -25, -20, -15, -10, -5, 0, 5, 10], "labels": false, "ticks": true, "tickSize": 4, "title": null}},
       "detail": {"field": "s"}}},
    {"data": {"name": "a_text"}, "mark": {"type": "text", "align": "left", "baseline": "middle", "fontSize": 24, "font": "DejaVu Serif", "color": "#000"},
     "encoding": {
       "x": {"field": "x", "type": "quantitative", "scale": {"domain": [1198, 3100], "nice": false, "zero": false},
             "axis": {"orient": "top", "zindex": 2, "offset": -4, "values": [1200, 1300, 1400, 1500, 1600, 1700, 1800, 1900, 2000, 2100, 2200, 2300, 2400, 2500, 2600, 2700, 2800, 2900, 3000], "labels": false, "ticks": true, "tickSize": 4, "title": null}},
       "y": {"field": "y", "type": "quantitative", "scale": {"domain": [-104.6, 15.1], "nice": false, "zero": false},
             "axis": {"orient": "right", "zindex": 2, "offset": -4, "values": [-100, -95, -90, -85, -80, -75, -70, -65, -60, -55, -50, -45, -40, -35, -30, -25, -20, -15, -10, -5, 0, 5, 10], "labels": false, "ticks": true, "tickSize": 4, "title": null}},
       "text": {"field": "t"}}}
  ]
},
{
  "width": 695, "height": 349,
  "resolve": {"axis": {"x": "independent", "y": "independent"}},
  "layer": [
    {"data": {"name": "b_rect"}, "mark": {"type": "rect", "color": "#efefef"},
     "encoding": {
       "x": {"field": "x", "type": "quantitative", "scale": {"domain": [-42.13, 14.98], "nice": false, "zero": false},
             "axis": {"orient": "bottom", "zindex": 2, "offset": -8, "values": [-40, -30, -20, -10, 0, 10], "format": "d", "ticks": true, "tickSize": 8, "labelPadding": 15, "title": null}},
       "x2": {"field": "x2"},
       "y": {"field": "y", "type": "quantitative", "scale": {"domain": [0.08, 0.64], "nice": false, "zero": false},
             "axis": {"orient": "left", "zindex": 2, "offset": -8, "values": [0.1, 0.2, 0.3, 0.4, 0.5, 0.6], "format": ".1f", "ticks": true, "tickSize": 8, "labelPadding": 9, "title": "Q₃₅D", "titleFontSize": 27, "titleX": -108, "titleY": 174, "titleAngle": 270, "titleAlign": "center", "titleBaseline": "middle"}},
       "y2": {"field": "y2"}}},
    {"data": {"name": "b_vr"}, "mark": {"type": "rule", "color": "#7070ff", "strokeWidth": 1.3},
     "encoding": {"x": {"field": "x", "type": "quantitative", "scale": {"domain": [-42.13, 14.98], "nice": false, "zero": false}, "axis": null}}},
    {"data": {"name": "b_gray"}, "mark": {"type": "line", "strokeWidth": 3.4, "color": "#808080"},
     "encoding": {
       "x": {"field": "x", "type": "quantitative", "scale": {"domain": [-42.13, 14.98], "nice": false, "zero": false},
             "axis": {"orient": "top", "zindex": 2, "offset": -8, "values": [-40, -30, -20, -10, 0, 10], "labels": false, "ticks": true, "tickSize": 8, "title": "b)", "titleFontSize": 26, "titleX": -133, "titleY": 10, "titleAlign": "left", "titleBaseline": "alphabetic", "titleAngle": 0}},
       "y": {"field": "y", "type": "quantitative", "scale": {"domain": [0.08, 0.64], "nice": false, "zero": false},
             "axis": {"orient": "right", "zindex": 2, "offset": -8, "values": [0.1, 0.2, 0.3, 0.4, 0.5, 0.6], "labels": false, "ticks": true, "tickSize": 8, "title": null}},
       "detail": {"field": "g"}}},
    {"data": {"name": "b_blue"}, "mark": {"type": "line", "strokeWidth": 3.4, "color": "#0a0af0"},
     "encoding": {
       "x": {"field": "x", "type": "quantitative", "scale": {"domain": [-42.13, 14.98], "nice": false, "zero": false},
             "axis": {"orient": "bottom", "zindex": 2, "offset": -4, "values": [-42, -40, -38, -36, -34, -32, -30, -28, -26, -24, -22, -20, -18, -16, -14, -12, -10, -8, -6, -4, -2, 0, 2, 4, 6, 8, 10, 12, 14], "labels": false, "ticks": true, "tickSize": 4, "title": ".", "titleColor": "transparent", "titleFontSize": 10, "titleX": 690, "titleY": 51, "titleBaseline": "bottom", "titleAngle": 0}},
       "y": {"field": "y", "type": "quantitative", "scale": {"domain": [0.08, 0.64], "nice": false, "zero": false},
             "axis": {"orient": "left", "zindex": 2, "offset": -4, "values": [0.1, 0.12, 0.14, 0.16, 0.18, 0.2, 0.22, 0.24, 0.26, 0.28, 0.3, 0.32, 0.34, 0.36, 0.38, 0.4, 0.42, 0.44, 0.46, 0.48, 0.5, 0.52, 0.54, 0.56, 0.58, 0.6, 0.62], "labels": false, "ticks": true, "tickSize": 4, "title": null}},
       "detail": {"field": "g"}}},
    {"data": {"name": "b_dots"}, "mark": {"type": "point", "filled": true, "size": 46, "color": "#000", "opacity": 1},
     "encoding": {
       "x": {"field": "x", "type": "quantitative", "scale": {"domain": [-42.13, 14.98], "nice": false, "zero": false},
             "axis": {"orient": "top", "zindex": 2, "offset": -4, "values": [-42, -40, -38, -36, -34, -32, -30, -28, -26, -24, -22, -20, -18, -16, -14, -12, -10, -8, -6, -4, -2, 0, 2, 4, 6, 8, 10, 12, 14], "labels": false, "ticks": true, "tickSize": 4, "title": null}},
       "y": {"field": "y", "type": "quantitative", "scale": {"domain": [0.08, 0.64], "nice": false, "zero": false},
             "axis": {"orient": "right", "zindex": 2, "offset": -4, "values": [0.1, 0.12, 0.14, 0.16, 0.18, 0.2, 0.22, 0.24, 0.26, 0.28, 0.3, 0.32, 0.34, 0.36, 0.38, 0.4, 0.42, 0.44, 0.46, 0.48, 0.5, 0.52, 0.54, 0.56, 0.58, 0.6, 0.62], "labels": false, "ticks": true, "tickSize": 4, "title": null}}}},
    {"data": {"name": "b_text"}, "mark": {"type": "text", "align": "left", "baseline": "middle", "fontSize": 25.5, "font": "DejaVu Serif", "color": "#000"},
     "encoding": {
       "x": {"field": "x", "type": "quantitative", "scale": {"domain": [-42.13, 14.98], "nice": false, "zero": false}, "axis": null},
       "y": {"field": "y", "type": "quantitative", "scale": {"domain": [0.08, 0.64], "nice": false, "zero": false}, "axis": null},
       "text": {"field": "t"}}}
  ]
},
{
  "width": 695, "height": 348,
  "resolve": {"axis": {"x": "independent", "y": "independent"}},
  "layer": [
    {"data": {"name": "c_rect"}, "mark": {"type": "rect", "color": "#efefef"},
     "encoding": {
       "x": {"field": "x", "type": "quantitative", "scale": {"domain": [419.77, 476.88], "nice": false, "zero": false},
             "axis": {"orient": "bottom", "zindex": 2, "offset": -8, "values": [420, 430, 440, 450, 460, 470], "format": "d", "ticks": true, "tickSize": 8, "labelPadding": 11, "title": "Radiofrequency detuning (MHz)", "titleFontSize": 27.5, "titleX": 344.5, "titleY": 75, "titleAlign": "center", "titleBaseline": "alphabetic"}},
       "x2": {"field": "x2"},
       "y": {"field": "y", "type": "quantitative", "scale": {"domain": [0.08, 0.64], "nice": false, "zero": false},
             "axis": {"orient": "left", "zindex": 2, "offset": -8, "values": [0.1, 0.2, 0.3, 0.4, 0.5, 0.6], "format": ".1f", "ticks": true, "tickSize": 8, "labelPadding": 9, "title": "Q₃₅D", "titleFontSize": 27, "titleX": -108, "titleY": 172, "titleAngle": 270, "titleAlign": "center", "titleBaseline": "middle"}},
       "y2": {"field": "y2"}}},
    {"data": {"name": "c_vr"}, "mark": {"type": "rule", "color": "#7070ff", "strokeWidth": 1.3},
     "encoding": {"x": {"field": "x", "type": "quantitative", "scale": {"domain": [419.77, 476.88], "nice": false, "zero": false}, "axis": null}}},
    {"data": {"name": "c_gray"}, "mark": {"type": "line", "strokeWidth": 3.4, "color": "#808080"},
     "encoding": {
       "x": {"field": "x", "type": "quantitative", "scale": {"domain": [419.77, 476.88], "nice": false, "zero": false},
             "axis": {"orient": "top", "zindex": 2, "offset": -8, "values": [420, 430, 440, 450, 460, 470], "labels": false, "ticks": true, "tickSize": 8, "title": null}},
       "y": {"field": "y", "type": "quantitative", "scale": {"domain": [0.08, 0.64], "nice": false, "zero": false},
             "axis": {"orient": "right", "zindex": 2, "offset": -8, "values": [0.1, 0.2, 0.3, 0.4, 0.5, 0.6], "labels": false, "ticks": true, "tickSize": 8, "title": null}},
       "detail": {"field": "g"}}},
    {"data": {"name": "c_blue"}, "mark": {"type": "line", "strokeWidth": 3.4, "color": "#0a0af0"},
     "encoding": {
       "x": {"field": "x", "type": "quantitative", "scale": {"domain": [419.77, 476.88], "nice": false, "zero": false},
             "axis": {"orient": "bottom", "zindex": 2, "offset": -4, "values": [420, 422, 424, 426, 428, 430, 432, 434, 436, 438, 440, 442, 444, 446, 448, 450, 452, 454, 456, 458, 460, 462, 464, 466, 468, 470, 472, 474, 476], "labels": false, "ticks": true, "tickSize": 4, "title": null}},
       "y": {"field": "y", "type": "quantitative", "scale": {"domain": [0.08, 0.64], "nice": false, "zero": false},
             "axis": {"orient": "left", "zindex": 2, "offset": -4, "values": [0.1, 0.12, 0.14, 0.16, 0.18, 0.2, 0.22, 0.24, 0.26, 0.28, 0.3, 0.32, 0.34, 0.36, 0.38, 0.4, 0.42, 0.44, 0.46, 0.48, 0.5, 0.52, 0.54, 0.56, 0.58, 0.6, 0.62], "labels": false, "ticks": true, "tickSize": 4, "title": null}},
       "detail": {"field": "g"}}},
    {"data": {"name": "c_dots"}, "mark": {"type": "point", "filled": true, "size": 46, "color": "#000", "opacity": 1},
     "encoding": {
       "x": {"field": "x", "type": "quantitative", "scale": {"domain": [419.77, 476.88], "nice": false, "zero": false},
             "axis": {"orient": "top", "zindex": 2, "offset": -4, "values": [420, 422, 424, 426, 428, 430, 432, 434, 436, 438, 440, 442, 444, 446, 448, 450, 452, 454, 456, 458, 460, 462, 464, 466, 468, 470, 472, 474, 476], "labels": false, "ticks": true, "tickSize": 4, "title": null}},
       "y": {"field": "y", "type": "quantitative", "scale": {"domain": [0.08, 0.64], "nice": false, "zero": false},
             "axis": {"orient": "right", "zindex": 2, "offset": -4, "values": [0.1, 0.12, 0.14, 0.16, 0.18, 0.2, 0.22, 0.24, 0.26, 0.28, 0.3, 0.32, 0.34, 0.36, 0.38, 0.4, 0.42, 0.44, 0.46, 0.48, 0.5, 0.52, 0.54, 0.56, 0.58, 0.6, 0.62], "labels": false, "ticks": true, "tickSize": 4, "title": null}}}},
    {"data": {"name": "c_text"}, "mark": {"type": "text", "align": "left", "baseline": "middle", "fontSize": 25.5, "font": "DejaVu Serif", "color": "#000"},
     "encoding": {
       "x": {"field": "x", "type": "quantitative", "scale": {"domain": [419.77, 476.88], "nice": false, "zero": false}, "axis": null},
       "y": {"field": "y", "type": "quantitative", "scale": {"domain": [0.08, 0.64], "nice": false, "zero": false}, "axis": null},
       "text": {"field": "t"}}}
  ]
}
]
}
